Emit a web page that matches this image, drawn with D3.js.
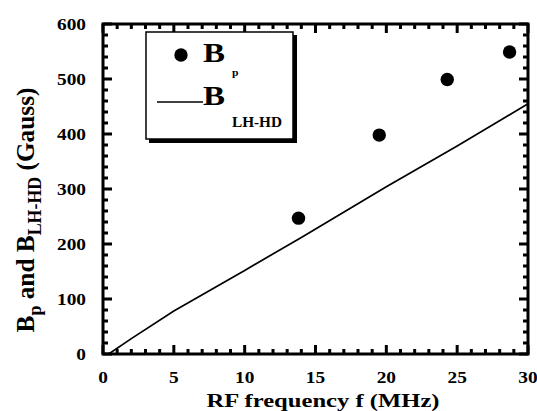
<!DOCTYPE html>
<html><head><meta charset="utf-8">
<script src="https://cdn.jsdelivr.net/npm/d3@7"></script>
<style>body{margin:0;background:#fff}</style>
</head><body><svg id="c" width="537" height="411"></svg>
<script>
const xTicks = [0,5,10,15,20,25,30];
const yTicks = [0,100,200,300,400,500,600];
const bpFreq = [13.8,19.5,24.3,28.7];
const bpVal = [247,398,499,549];
const lhFreq = [0.4,2,5,10,14,20,25,30];
const lhVal = [0,28,78,152,212,304,378,455];

const svg = d3.select("#c");
const L=103,R=528,T=24,B=354;
const x = d3.scaleLinear().domain([0,30]).range([L,R]);
const y = d3.scaleLinear().domain([0,600]).range([B,T]);

function pickFont(){
  const t = svg.append("text").attr("font-size",20).attr("font-weight","bold").text("RF frequency f (MHz) 0123 Gauss");
  const w = f => { t.attr("font-family",f); return t.node().getComputedTextLength(); };
  const ls=w("'Liberation Serif'"), lsa=w("'Liberation Sans'"), ds=w("'DejaVu Sans'"), dse=w("'DejaVu Serif'"), ss=w("sans-serif");
  t.remove();
  const distinct = [lsa,ds,dse,ss].every(v=>Math.abs(v-ls)>0.5);
  return distinct ? {ff:"'Liberation Serif'", cap:0.66} : {ff:"'DejaVu Serif'", cap:0.73};
}
const F = pickFont();

function mkText(parent, capH){
  return parent.append("text").attr("font-family",F.ff).attr("font-weight","bold").attr("fill","#000")
    .attr("font-size", capH/F.cap);
}
function fitH(t, ax, ay, targetW){
  const w = t.node().getComputedTextLength();
  t.attr("x",0).attr("y",0).attr("transform",`translate(${ax},${ay}) scale(${targetW/w},1)`);
}

// data line
svg.append("path").datum(lhFreq.map((f,i)=>[f,lhVal[i]]))
  .attr("d",d3.line().x(d=>x(d[0])).y(d=>y(d[1])))
  .attr("fill","none").attr("stroke","#000").attr("stroke-width",1.7);

// points
svg.selectAll("circle.p").data(bpFreq.map((f,i)=>[f,bpVal[i]])).enter()
  .append("circle").attr("cx",d=>x(d[0])).attr("cy",d=>y(d[1])).attr("r",6.7).attr("fill","#000");

// ticks as filled rects (inward, four sides), positioned by the scales
const xs = d3.range(0,31,1), ys = d3.range(0,601,20);
const tickRects = [];
xs.forEach(v=>{ const len = v%5?5:9;
  tickRects.push({x:x(v)-1.5, y:B-len, w:3, h:len});
  tickRects.push({x:x(v)-1.5, y:T, w:3, h:len}); });
ys.forEach(v=>{ const len = v%100?5:9;
  tickRects.push({x:L, y:y(v)-1.5, w:len, h:3});
  tickRects.push({x:R-len, y:y(v)-1.5, w:len, h:3}); });
svg.append("g").selectAll("rect").data(tickRects).enter().append("rect")
  .attr("x",d=>d.x).attr("y",d=>d.y).attr("width",d=>d.w).attr("height",d=>d.h).attr("fill","#000");

// frame as filled path (outer minus inner)
svg.append("path").attr("fill-rule","evenodd").attr("fill","#000")
  .attr("d",`M${L-1.5},${T-1.5}H${R+1.5}V${B+1.5}H${L-1.5}Z M${L+1.5},${T+1.5}V${B-1.5}H${R-1.5}V${T+1.5}Z`);

// tick labels
const probe = mkText(svg, 11).text("600");
const tickScale = 29 / probe.node().getComputedTextLength();
probe.remove();
xTicks.forEach(v=>{
  mkText(svg, 11).attr("text-anchor","middle").text(v)
    .attr("transform",`translate(${x(v)},383) scale(${tickScale},1)`);
});
yTicks.forEach(v=>{
  mkText(svg, 11).attr("text-anchor","end").text(v)
    .attr("transform",`translate(86,${y(v)+5.5}) scale(${tickScale},1)`);
});

// x title
const xt = mkText(svg, 12.5).attr("text-anchor","middle").text("RF frequency f (MHz)");
fitH(xt, 323, 407, 233);

// y title (rotated)
const yt = mkText(svg, 17).attr("text-anchor","middle");
const subFs = 12/F.cap;
yt.append("tspan").text("B");
yt.append("tspan").attr("dy",7).attr("font-size",subFs).text("p");
yt.append("tspan").attr("dy",-7).text(" and B");
yt.append("tspan").attr("dy",7).attr("font-size",subFs).text("LH-HD");
yt.append("tspan").attr("dy",-7).text(" (Gauss)");
const ytw = yt.node().getComputedTextLength();
yt.attr("transform",`translate(34,210) rotate(-90) scale(${245/ytw},1)`);

// legend: white box, thin border, thick shadow drawn as filled path
const lg = svg.append("g");
lg.append("rect").attr("x",146).attr("y",32).attr("width",147).attr("height",107)
  .attr("fill","#fff").attr("stroke","#000").attr("stroke-width",1.5);
lg.append("path").attr("fill","#000")
  .attr("d","M149,139H293V35H297V143H149Z");
lg.append("circle").attr("cx",181).attr("cy",55).attr("r",6.7).attr("fill","#000");
fitH(mkText(lg, 18).text("B"), 203, 62, 22);
fitH(mkText(lg, 7).text("p"), 232, 76, 6.5);
lg.append("line").attr("x1",157).attr("x2",203).attr("y1",102).attr("y2",102)
  .attr("stroke","#000").attr("stroke-width",1.5);
fitH(mkText(lg, 18).text("B"), 203, 105, 22);
fitH(mkText(lg, 10).text("LH-HD"), 232, 127, 50);
</script></body></html>
